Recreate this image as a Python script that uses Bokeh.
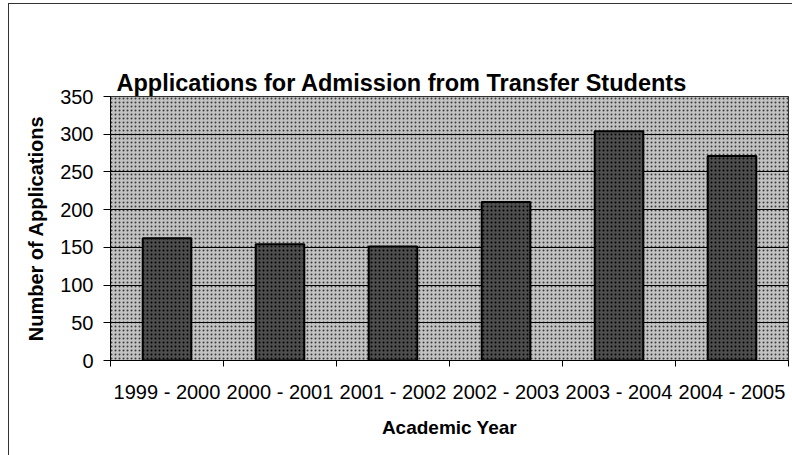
from bokeh.plotting import figure
from bokeh.models import Range1d, FixedTicker, LinearAxis, Title
from bokeh.embed import file_html
from bokeh.resources import INLINE

categories = ["1999 - 2000", "2000 - 2001", "2001 - 2002", "2002 - 2003", "2003 - 2004", "2004 - 2005"]
applications = [162, 154, 151, 210, 304, 271]
y_ticks = [0, 50, 100, 150, 200, 250, 300, 350]
title_text = "Applications for Admission from Transfer Students"
x_label = "Academic Year"
y_label = "Number of Applications"

FONT = "Liberation Sans"
n = len(categories)
x_pos = list(range(n))
y_min, y_max = y_ticks[0], y_ticks[-1]

# the figure is shifted by 8px / 3px so that its CSS border forms the outer chart frame
p = figure(width=784, height=452, output_backend="svg", toolbar_location=None, title=None,
           x_range=Range1d(-0.5, n - 0.5), y_range=Range1d(y_min, y_max),
           min_border_left=101, min_border_right=5, min_border_top=92, min_border_bottom=96,
           background_fill_color="white", border_fill_color="white")
p.styles = {"margin-left": "8px", "margin-top": "3px",
            "border-left": "1px solid #333333", "border-top": "1px solid #333333"}

# empty spacer axis directly above the frame, so the title (added after it) sits higher
spacer = LinearAxis(ticker=FixedTicker(ticks=[]), axis_line_color=None,
                    major_tick_out=47, major_tick_in=0, minor_tick_out=0, minor_tick_in=0,
                    major_label_standoff=0, major_tick_line_color="white",
                    minor_tick_line_color=None)
p.add_layout(spacer, "above")

# title
title = Title(text=title_text, text_font=FONT, text_font_size="23.5px",
              text_font_style="bold", text_color="black", align="left", offset=6,
              vertical_align="middle", standoff=0)
p.add_layout(title, "above")

# patterned plot area background
p.quad(left=-0.5, right=n - 0.5, bottom=y_min, top=y_max, fill_color="#c2c2c2",
       hatch_pattern="dot", hatch_color="#3a3a3a", hatch_scale=4, hatch_weight=1.5,
       line_color=None, level="image")

# bars
p.vbar(x=x_pos, top=applications, bottom=0, width=0.43, fill_color="#4e4e4e",
       line_color="black", line_width=2, hatch_pattern="dot", hatch_color="#000000",
       hatch_scale=4, hatch_weight=1.5)

# grid
p.xgrid.visible = False
p.ygrid.ticker = FixedTicker(ticks=y_ticks)
p.ygrid.grid_line_color = "black"
p.ygrid.grid_line_width = 1

p.outline_line_color = "black"
p.outline_line_width = 1

# x axis: labels at centers, ticks at boundaries (minor)
xa = p.below[0]
xa.ticker = FixedTicker(ticks=x_pos, minor_ticks=[i - 0.5 for i in range(n + 1)])
xa.major_label_overrides = {i: c for i, c in zip(x_pos, categories)}
xa.major_tick_out = 0
xa.major_tick_in = 0
xa.minor_tick_out = 6
xa.minor_tick_in = 0
xa.minor_tick_line_color = "black"
xa.axis_line_color = "black"
xa.major_label_text_font = FONT
xa.major_label_text_font_size = "20px"
xa.major_label_text_color = "black"
xa.major_label_standoff = 14
xa.axis_label = x_label
xa.axis_label_text_font = FONT
xa.axis_label_text_font_size = "19px"
xa.axis_label_text_font_style = "bold"
xa.axis_label_text_color = "black"
xa.axis_label_standoff = 11

ya = p.left[0]
ya.ticker = FixedTicker(ticks=y_ticks)
ya.minor_tick_line_color = None
ya.major_tick_out = 7
ya.major_tick_in = 0
ya.major_tick_line_color = "black"
ya.axis_line_color = "black"
ya.major_label_text_font = FONT
ya.major_label_text_font_size = "20px"
ya.major_label_text_color = "black"
ya.major_label_standoff = 10
ya.axis_label = y_label
ya.axis_label_text_font = FONT
ya.axis_label_text_font_size = "20px"
ya.axis_label_text_font_style = "bold"
ya.axis_label_text_color = "black"
ya.axis_label_standoff = 10

open("out.html", "w").write(file_html(p, INLINE))
